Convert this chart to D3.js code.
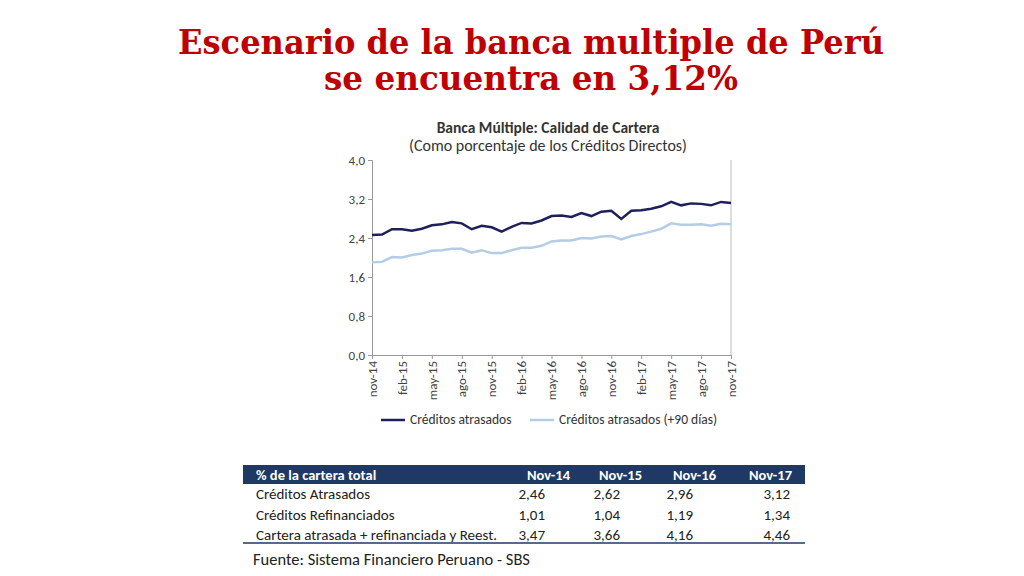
<!DOCTYPE html>
<html><head><meta charset="utf-8">
<script src="https://cdn.jsdelivr.net/npm/d3@7"></script>
<style>body{margin:0;background:#fff}svg{display:block}</style>
</head><body>
<svg id="c" width="1024" height="576"></svg>
<script>
const months = ["nov-14","dic-14","ene-15","feb-15","mar-15","abr-15","may-15","jun-15","jul-15","ago-15","sep-15","oct-15","nov-15","dic-15","ene-16","feb-16","mar-16","abr-16","may-16","jun-16","jul-16","ago-16","sep-16","oct-16","nov-16","dic-16","ene-17","feb-17","mar-17","abr-17","may-17","jun-17","jul-17","ago-17","sep-17","oct-17","nov-17"];
const atrasados = [2.46,2.47,2.58,2.58,2.55,2.59,2.66,2.68,2.73,2.70,2.58,2.65,2.62,2.53,2.63,2.71,2.70,2.76,2.85,2.86,2.83,2.91,2.85,2.94,2.96,2.79,2.96,2.97,3.00,3.05,3.14,3.07,3.11,3.10,3.07,3.14,3.12];
const atrasados90 = [1.90,1.91,2.01,2.00,2.05,2.08,2.14,2.15,2.18,2.18,2.10,2.15,2.09,2.09,2.15,2.20,2.20,2.24,2.33,2.35,2.35,2.40,2.39,2.43,2.44,2.37,2.44,2.48,2.53,2.59,2.70,2.67,2.67,2.68,2.65,2.69,2.68];
const yTicks = [0,0.8,1.6,2.4,3.2,4.0];
const tableHeader = ["% de la cartera total","Nov-14","Nov-15","Nov-16","Nov-17"];
const tableRows = [
 ["Créditos Atrasados","2,46","2,62","2,96","3,12"],
 ["Créditos Refinanciados","1,01","1,04","1,19","1,34"],
 ["Cartera atrasada + refinanciada y Reest.","3,47","3,66","4,16","4,46"]];

const svg = d3.select("#c");
const F = "Calibri, Carlito, 'Open Sans', sans-serif";
const TF = "'DejaVu Serif', Georgia, serif";
svg.append("text").attr("x",178).attr("y",54).attr("fill","#c00000").attr("textLength",706).attr("lengthAdjust","spacingAndGlyphs")
  .attr("font-family",TF).attr("font-weight","bold").attr("font-size",33).text("Escenario de la banca multiple de Perú");
svg.append("text").attr("x",324).attr("y",90).attr("fill","#c00000").attr("textLength",414).attr("lengthAdjust","spacingAndGlyphs")
  .attr("font-family",TF).attr("font-weight","bold").attr("font-size",33).text("se encuentra en 3,12%");

svg.append("text").attr("x",548).attr("y",133).attr("text-anchor","middle").attr("fill","#333")
  .attr("font-family",F).attr("font-weight","bold").attr("font-size",15.5).text("Banca Múltiple: Calidad de Cartera");
svg.append("text").attr("x",548).attr("y",151).attr("text-anchor","middle").attr("fill","#333")
  .attr("font-family",F).attr("font-size",16).text("(Como porcentaje de los Créditos Directos)");

const x = d3.scalePoint().domain(months).range([372,731]);
const y = d3.scaleLinear().domain([0,4]).range([355,160]);
const g = svg.append("g");
const ya = g.append("g").attr("transform","translate(372,0)")
  .call(d3.axisLeft(y).tickValues(yTicks).tickSize(4).tickFormat(d=>d3.format(".1f")(d).replace(".",",")));
ya.selectAll("text").attr("font-family",F).attr("font-size",13).attr("fill","#444");
ya.selectAll("line,path").attr("stroke","#999");
g.append("line").attr("x1",731).attr("x2",731).attr("y1",160).attr("y2",355).attr("stroke","#bbb");
const xa = g.append("g").attr("transform","translate(0,355)")
  .call(d3.axisBottom(x).tickValues(months.filter((d,i)=>i%3===0)).tickSize(4));
xa.selectAll("line,path").attr("stroke","#999");
xa.selectAll(".tick text").attr("font-family",F).attr("font-size",13).attr("fill","#444")
  .attr("transform","rotate(-90)").attr("text-anchor","end").attr("x",-6).attr("y",0).attr("dy","0.32em");
const line = d3.line().x((d,i)=>x(months[i])).y(d=>y(d));
g.append("path").datum(atrasados90).attr("d",line).attr("fill","none").attr("stroke","#b4cde4").attr("stroke-width",2.5);
g.append("path").datum(atrasados).attr("d",line).attr("fill","none").attr("stroke","#1f1f5c").attr("stroke-width",2.5);

const lg = [["Créditos atrasados","#1f1f5c",381],["Créditos atrasados (+90 días)","#b4cde4",530]];
lg.forEach(([t,c,lx])=>{
  svg.append("line").attr("x1",lx).attr("x2",lx+24).attr("y1",420).attr("y2",420).attr("stroke",c).attr("stroke-width",2.5);
  svg.append("text").attr("x",lx+29).attr("y",424).attr("font-family",F).attr("font-size",13.5).attr("fill","#333").text(t);
});

svg.append("rect").attr("x",243).attr("y",465).attr("width",562).attr("height",19).attr("fill","#1f3864");
const colX = [256,570,642,716,792];
tableHeader.forEach((t,i)=>svg.append("text").attr("x",colX[i]).attr("y",480)
  .attr("text-anchor",i?"end":"start").attr("font-family",F).attr("font-weight","bold").attr("font-size",14.5).attr("fill","#fff").text(t));
const valX = [256,545,620,693,790];
tableRows.forEach((r,j)=>r.forEach((t,i)=>svg.append("text").attr("x",valX[i]).attr("y",499+j*20.5)
  .attr("text-anchor",i?"end":"start").attr("font-family",F).attr("font-size",15).attr("fill","#222").text(t)));
svg.append("line").attr("x1",243).attr("x2",805).attr("y1",543).attr("y2",543).attr("stroke","#1f3864").attr("stroke-width",1.5);
svg.append("text").attr("x",253).attr("y",565).attr("font-family",F).attr("font-size",16.5).attr("fill","#222").text("Fuente: Sistema Financiero Peruano - SBS");
</script></body></html>
